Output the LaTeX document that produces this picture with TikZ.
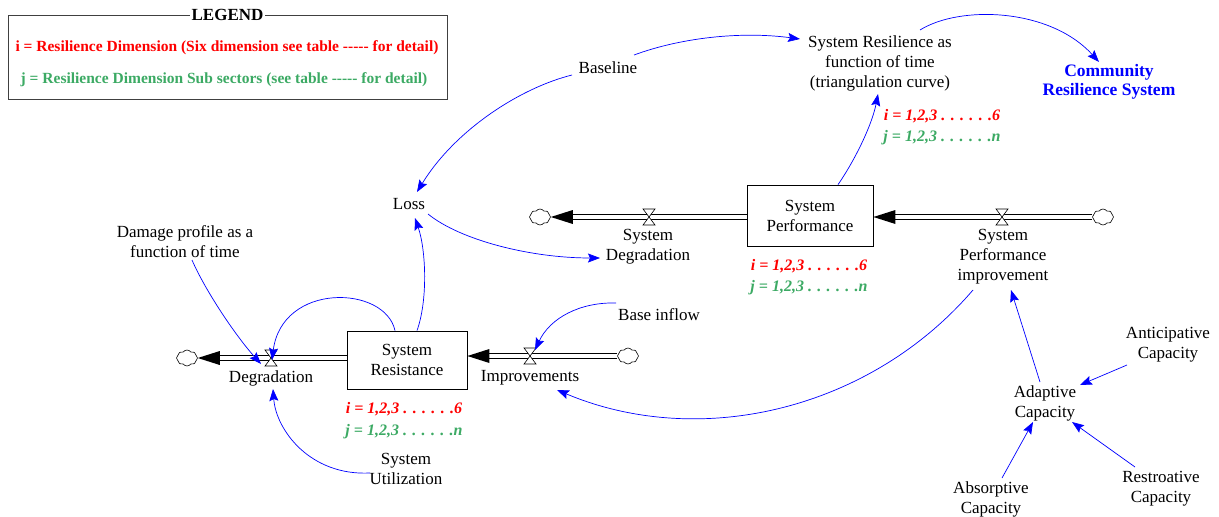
\documentclass[tikz,border=0pt]{standalone}
\usepackage{fontspec}
\setmainfont{Liberation Serif}
\usetikzlibrary{arrows.meta,shapes.symbols,calc}
\definecolor{cblue}{RGB}{0,0,255}
\definecolor{cred}{RGB}{255,0,0}
\definecolor{cgreen}{RGB}{60,170,100}
\newcommand\hy{\mbox{-}}
\begin{document}
\begin{tikzpicture}[x=1pt,y=-1pt,
  lbl/.style={align=center,inner sep=1pt,font=\fontsize{17}{20}\selectfont},
  stockbox/.style={draw,line width=0.8pt,align=center,inner sep=0pt,font=\fontsize{17}{20}\selectfont},
  idxr/.style={inner sep=0pt,text=cred,font=\fontsize{16}{19}\selectfont\bfseries\itshape},
  idxg/.style={inner sep=0pt,text=cgreen,font=\fontsize{16}{19}\selectfont\bfseries\itshape},
  conn/.style={draw=cblue,line width=0.7pt,-{Stealth[length=12pt,width=9pt,inset=2pt]}},
  pipeline/.style={draw=black,line width=0.7pt},
  cloudn/.style={cloud,cloud puffs=8,cloud puff arc=110,draw,line width=0.6pt,minimum width=21pt,minimum height=16pt,inner sep=0pt,fill=white},
  valvepic/.pic={\draw[line width=0.6pt,fill=white] (-6,-8) -- (6,-8) -- (-6,8) -- (6,8) -- cycle;},
  tippic/.pic={\fill[black] (0,0) -- (22,-7) -- (22,7) -- cycle;}
]
\fill[white] (0,0) rectangle (1219,517);
\useasboundingbox (0,0) rectangle (1219,517);

% legend
\node[draw=black!75,line width=0.8pt,minimum width=439pt,minimum height=84pt,inner sep=0pt] (legend) at (227.5,57) {};
\node[fill=white,inner sep=1.5pt,font=\fontsize{17}{20}\selectfont\bfseries] (legendt) at (legend.north) {LEGEND};
\node[inner sep=0pt,text=cred,font=\fontsize{15.5}{18}\selectfont\bfseries] (legi) at (227,48) {i = Resilience Dimension (Six dimension see table \hy\hy\hy\hy\hy{} for detail)};
\node[inner sep=0pt,text=cgreen,font=\fontsize{15.5}{18}\selectfont\bfseries] (legj) at (224,80) {j = Resilience Dimension Sub sectors (see table \hy\hy\hy\hy\hy{} for detail)};

% text variables
\node[lbl] (baseline) at (608,68) {Baseline};
\node[lbl] (sysres) at (880,63) {System Resilience as\\function of time\\(triangulation curve)};
\node[lbl,text=cblue,font=\fontsize{17.5}{19}\selectfont\bfseries] (community) at (1109,82) {Community\\Resilience System};
\node[idxr] (ires) at (942,116) {i = 1,2,3 . . . . . .6};
\node[idxg] (jres) at (942,138) {j = 1,2,3 . . . . . .n};
\node[lbl] (loss) at (409,204) {Loss};
\node[lbl] (damage) at (185,242) {Damage profile as a\\function of time};
\node[stockbox,minimum width=126pt,minimum height=61pt] (sysperf) at (810,215.5) {System\\Performance};
\node[lbl] (sdeg) at (648,247) {System\\Degradation};
\node[lbl] (spi) at (1003,257) {System\\Performance\\improvement};
\node[idxr] (iperf) at (809,266) {i = 1,2,3 . . . . . .6};
\node[idxg] (jperf) at (809,288) {j = 1,2,3 . . . . . .n};
\node[stockbox,minimum width=120pt,minimum height=58pt] (sysresist) at (407,360) {System\\Resistance};
\node[lbl] (deg) at (271,378) {Degradation};
\node[lbl] (imp) at (530,378) {Improvements};
\node[lbl] (baseinflow) at (659,315) {Base inflow};
\node[idxr] (iresist) at (404,409) {i = 1,2,3 . . . . . .6};
\node[idxg] (jresist) at (404,432) {j = 1,2,3 . . . . . .n};
\node[lbl] (sysutil) at (406,469) {System\\Utilization};
\node[lbl] (adaptive) at (1045,403) {Adaptive\\Capacity};
\node[lbl] (anticip) at (1168,345) {Anticipative\\Capacity};
\node[lbl] (absorp) at (991,499) {Absorptive\\Capacity};
\node[lbl] (restro) at (1161,489) {Restroative\\Capacity};

% valves and clouds
\coordinate (vdeg) at (271,358);
\coordinate (vimp) at (530,356);
\coordinate (vsdeg) at (649,217);
\coordinate (vspi) at (1002,217);
\node[cloudn] (cloudD) at (187,358) {};
\node[cloudn] (cloudI) at (628,356) {};
\node[cloudn] (cloudSD) at (540,217) {};
\node[cloudn] (cloudSPI) at (1103,217) {};

% pipes (two parallel lines each)
\foreach \off in {-2.2,2.2} {
  \draw[pipeline] ($(sysresist.west |- vdeg)+(0,\off)$) -- ($(cloudD.east |- vdeg)+(20,\off)$);
  \draw[pipeline] ($(cloudI.west |- vimp)+(0,\off)$) -- ($(sysresist.east |- vimp)+(20,\off)$);
  \draw[pipeline] ($(sysperf.west |- vsdeg)+(0,\off)$) -- ($(cloudSD.east |- vsdeg)+(20,\off)$);
  \draw[pipeline] ($(cloudSPI.west |- vspi)+(0,\off)$) -- ($(sysperf.east |- vspi)+(20,\off)$);
}
\pic at (cloudD.east |- vdeg) {tippic};
\pic at (sysresist.east |- vimp) {tippic};
\pic at (cloudSD.east |- vsdeg) {tippic};
\pic at (sysperf.east |- vspi) {tippic};
\pic at (vdeg) {valvepic};
\pic at (vimp) {valvepic};
\pic at (vsdeg) {valvepic};
\pic at (vspi) {valvepic};

% connectors
\draw[conn] ($(baseline)+(26,-13)$) .. controls ($(baseline)+(72,-30)$) and ($(sysres)+(-140,-32)$) .. ($(sysres)+(-80,-24)$);
\draw[conn] ($(baseline)+(-36,7)$) .. controls ($(baseline)+(-88,20)$) and ($(loss)+(46,-74)$) .. ($(loss)+(8,-12)$);
\draw[conn] ($(sysres)+(40,-33)$) .. controls ($(sysres)+(80,-58)$) and ($(community)+(-59,-74)$) .. ($(community)+(-10,-20)$);
\draw[conn] ($(sysperf.north)+(28,0)$) .. controls ($(sysperf)+(45,-55.5)$) and ($(sysres)+(-8,62)$) .. ($(sysres)+(-2,31)$);
\draw[conn] ($(loss)+(19,10)$) .. controls ($(loss)+(51,36)$) and ($(sdeg)+(-118,11)$) .. ($(sdeg)+(-48,11)$);
\draw[conn] ($(sysresist.north)+(10,0)$) .. controls ($(sysresist)+(21,-60)$) and ($(loss)+(17,46)$) .. ($(loss)+(6,14)$);
\draw[conn] ($(sysresist.north)+(-12,0)$) .. controls ($(sysresist)+(-22,-75)$) and ($(vdeg)+(11,-76)$) .. ($(vdeg)+(1,2)$);
\draw[conn] ($(damage)+(7,18)$) .. controls ($(damage)+(20,48)$) and ($(vdeg)+(-36,-23)$) .. ($(vdeg)+(-10,6)$);
\draw[conn] ($(sysutil)+(-36,4)$) .. controls ($(sysutil)+(-96,7)$) and ($(deg)+(5,52)$) .. ($(deg)+(2,11)$);
\draw[conn] ($(baseinflow)+(-43,-12)$) .. controls ($(baseinflow)+(-79,-13)$) and ($(vimp)+(20,-38)$) .. ($(vimp)+(5,-6)$);
\draw[conn] ($(spi)+(-30,33)$) .. controls ($(spi)+(-133,153)$) and ($(imp)+(170,72)$) .. ($(imp)+(27,12)$);
\draw[conn] ($(adaptive)+(-5,-21)$) -- ($(spi)+(8,33)$);
\draw[conn] ($(anticip)+(-41,20)$) -- ($(adaptive)+(35,-18)$);
\draw[conn] ($(absorp)+(11,-21)$) -- ($(adaptive)+(-12,19)$);
\draw[conn] ($(restro)+(-26,-22)$) -- ($(adaptive)+(27,19)$);
\end{tikzpicture}
\end{document}
